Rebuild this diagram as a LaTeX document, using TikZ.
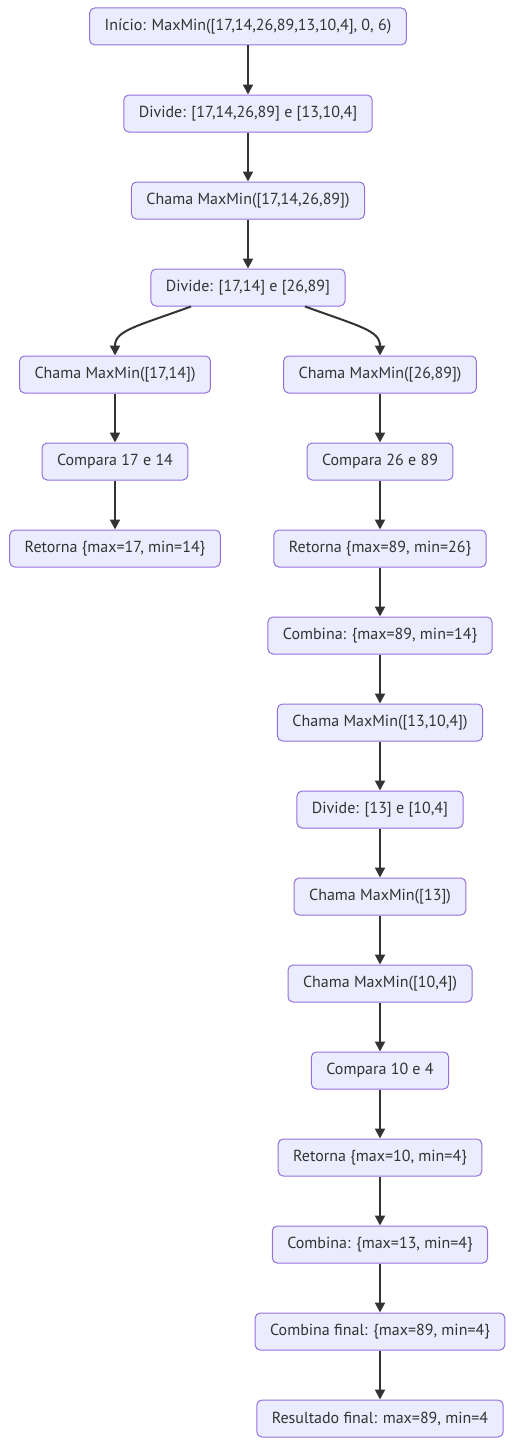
\documentclass[tikz,border=0pt]{standalone}
\usepackage{fontspec}
\setmainfont{PT Sans}
\usetikzlibrary{arrows.meta}
\definecolor{boxfill}{HTML}{ECECFF}
\definecolor{boxline}{HTML}{9370DB}
\definecolor{setacor}{HTML}{333333}
\tikzset{
  passo/.style={draw=boxline, fill=boxfill, rounded corners=5pt, line width=1pt,
    minimum height=37pt, inner xsep=15pt, text=setacor, font=\fontsize{16}{19}\selectfont},
  seta/.style={draw=setacor, line width=2pt, -{Triangle[length=10pt,width=10pt]}}
}
\begin{document}
\begin{tikzpicture}[x=1pt,y=-1pt]
  \useasboundingbox (0,0) rectangle (515,1445);
  % tronco inicial
  \node[passo] (inicio) at (248,26.5) {Início: MaxMin([17,14,26,89,13,10,4], 0, 6)};
  \node[passo] (div1) at (248,113.5) {Divide: [17,14,26,89] e [13,10,4]};
  \node[passo] (cham1) at (248,200.5) {Chama MaxMin([17,14,26,89])};
  \node[passo] (div2) at (248,287.5) {Divide: [17,14] e [26,89]};
  % ramo esquerdo
  \node[passo] (esq1) at (115,374.5) {Chama MaxMin([17,14])};
  \node[passo] (esq2) at (115,461.5) {Compara 17 e 14};
  \node[passo] (esq3) at (115,548.5) {Retorna \{max=17, min=14\}};
  % ramo direito
  \node[passo] (dir1) at (380,374.5) {Chama MaxMin([26,89])};
  \node[passo] (dir2) at (380,461.5) {Compara 26 e 89};
  \node[passo] (dir3) at (380,548.5) {Retorna \{max=89, min=26\}};
  \node[passo] (dir4) at (380,635.5) {Combina: \{max=89, min=14\}};
  \node[passo] (dir5) at (380,722.5) {Chama MaxMin([13,10,4])};
  \node[passo] (dir6) at (380,809.5) {Divide: [13] e [10,4]};
  \node[passo] (dir7) at (380,896.5) {Chama MaxMin([13])};
  \node[passo] (dir8) at (380,983.5) {Chama MaxMin([10,4])};
  \node[passo] (dir9) at (380,1070.5) {Compara 10 e 4};
  \node[passo] (dir10) at (380,1157.5) {Retorna \{max=10, min=4\}};
  \node[passo] (dir11) at (380,1244.5) {Combina: \{max=13, min=4\}};
  \node[passo] (dir12) at (380,1331.5) {Combina final: \{max=89, min=4\}};
  \node[passo] (fim) at (380,1418.5) {Resultado final: max=89, min=4};

  \foreach \a/\b in {inicio/div1, div1/cham1, cham1/div2, esq1/esq2, esq2/esq3,
      dir1/dir2, dir2/dir3, dir3/dir4, dir4/dir5, dir5/dir6, dir6/dir7, dir7/dir8,
      dir8/dir9, dir9/dir10, dir10/dir11, dir11/dir12, dir12/fim}
    \draw[seta] (\a) -- (\b);
  \draw[seta] ([xshift=-57pt]div2.south) .. controls +(-55,20) and +(0,-25) .. (esq1.north);
  \draw[seta] ([xshift=57pt]div2.south) .. controls +(55,20) and +(0,-25) .. (dir1.north);
\end{tikzpicture}
\end{document}
